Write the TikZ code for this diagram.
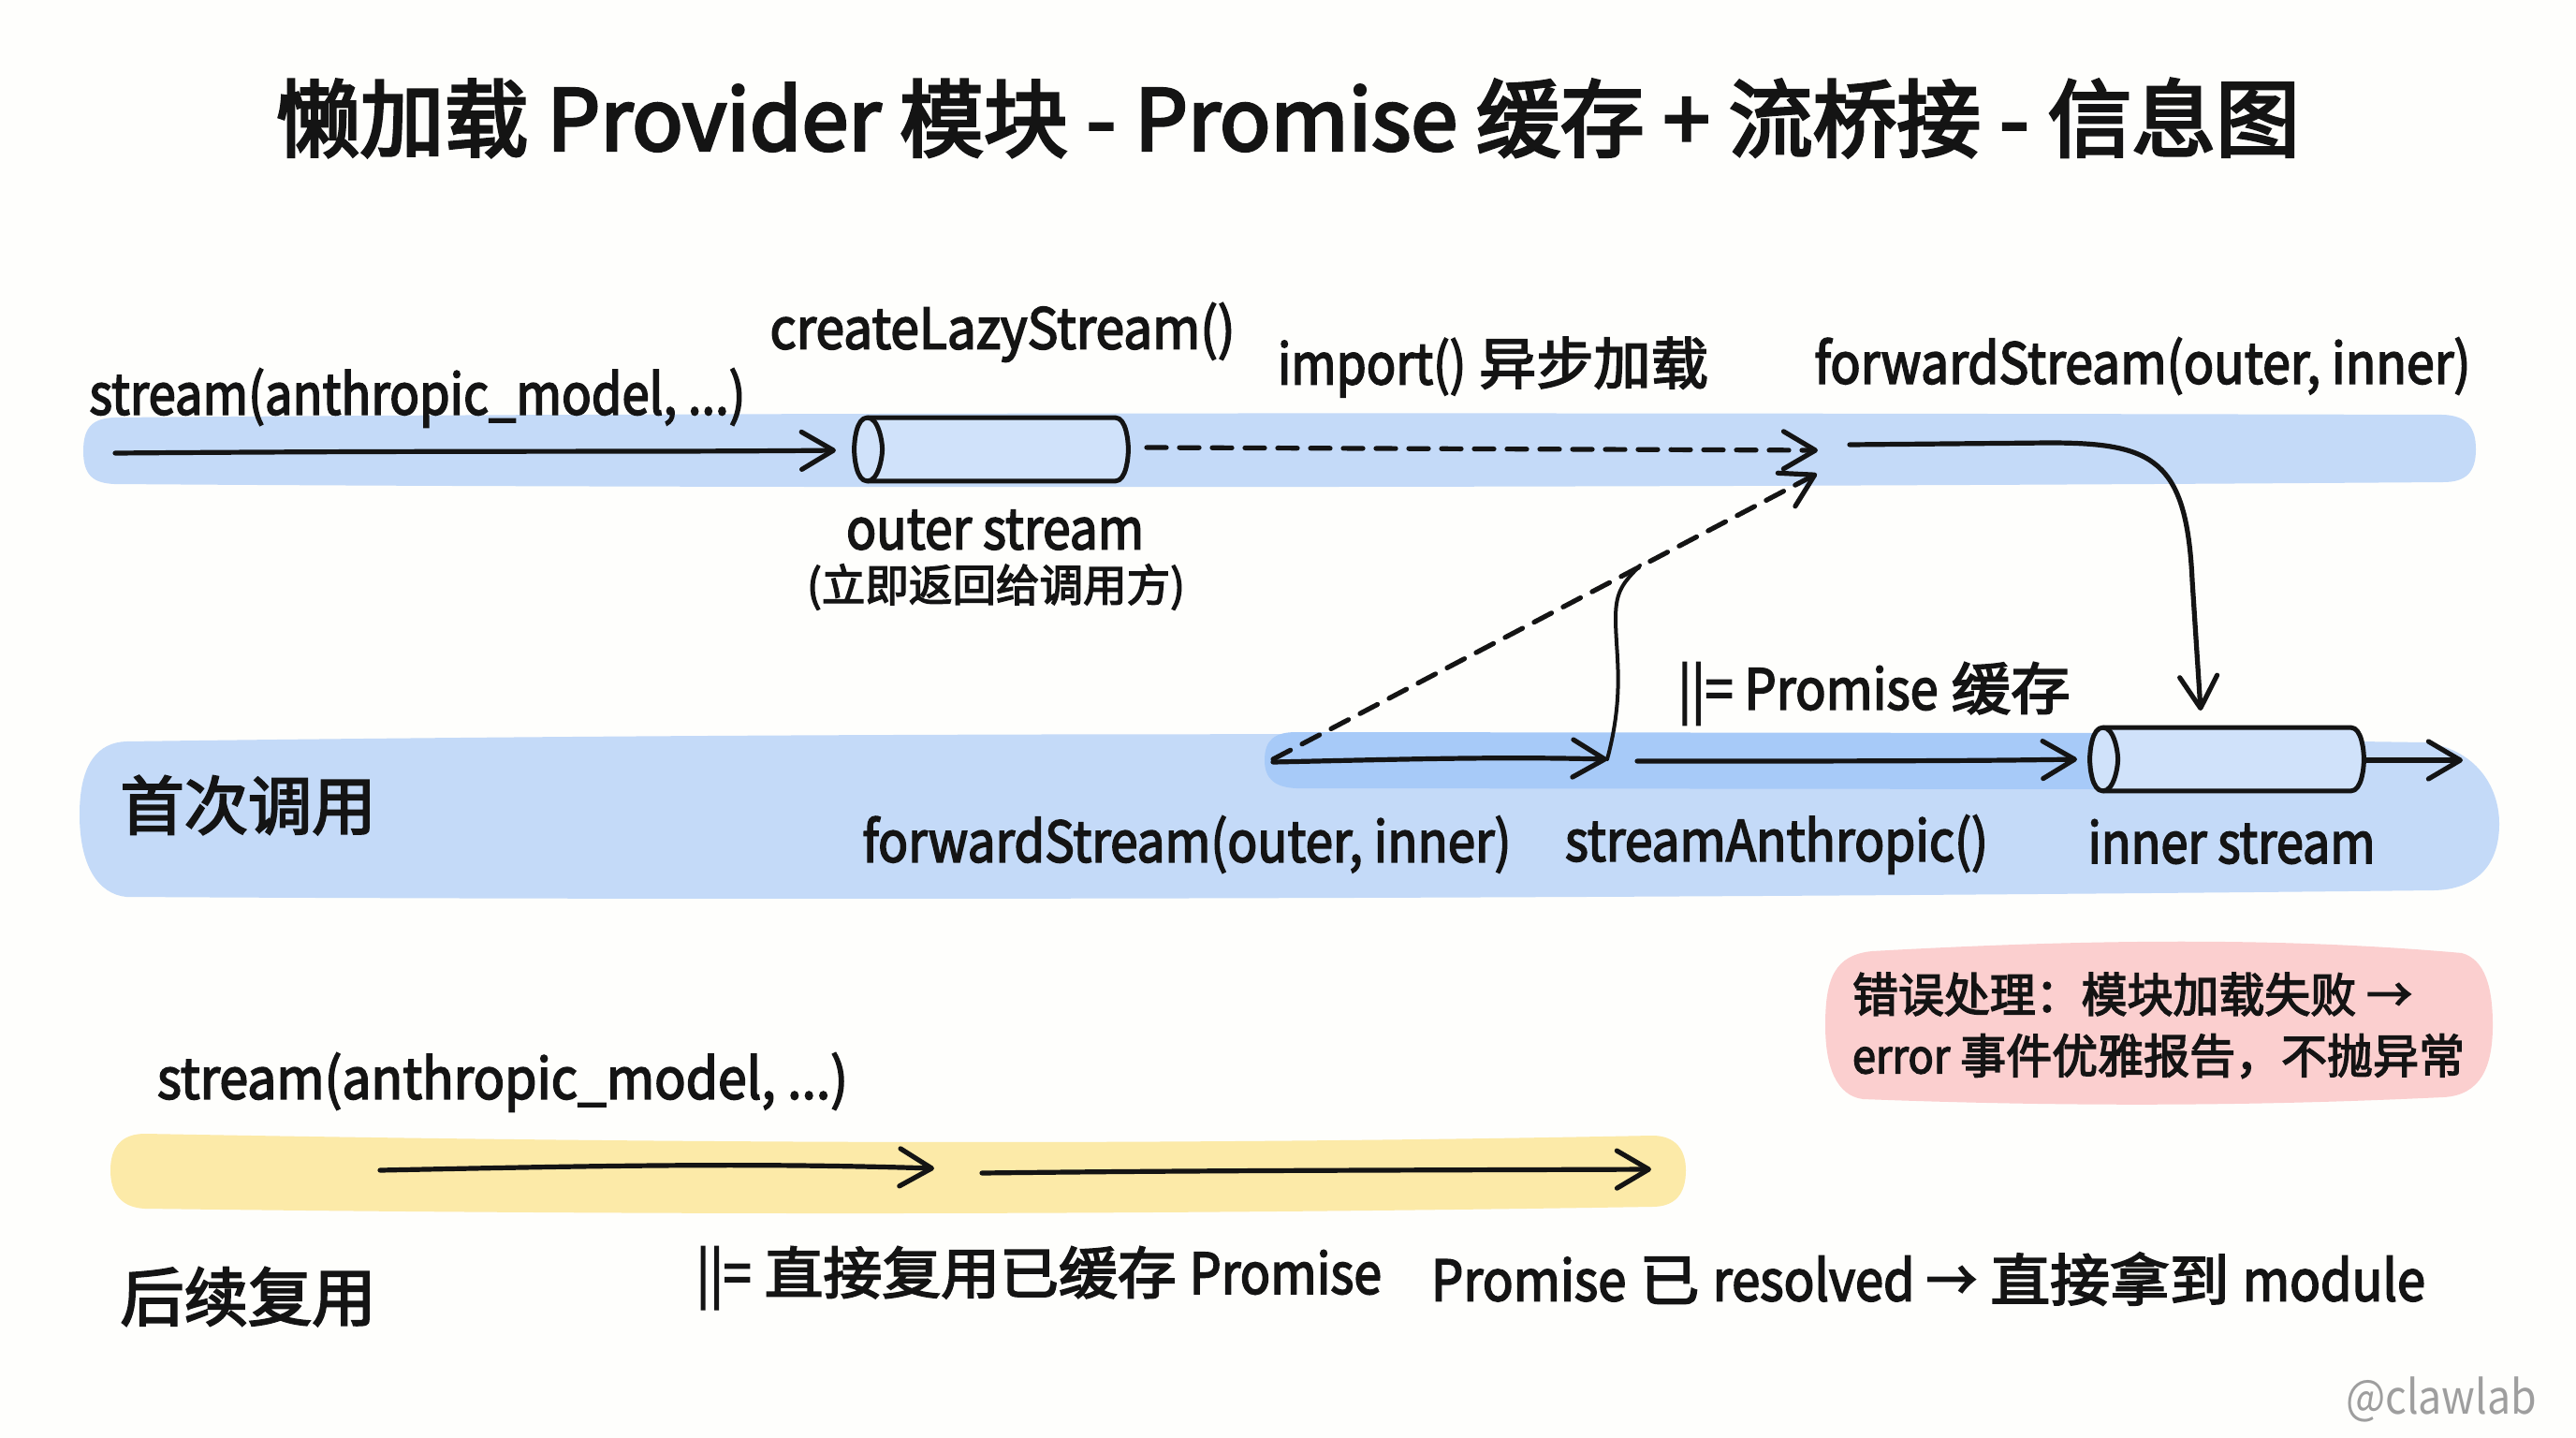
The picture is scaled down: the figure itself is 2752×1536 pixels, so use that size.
\documentclass[tikz,border=0pt]{standalone}
\usepackage{fontspec}
\usepackage{graphicx}
\usetikzlibrary{arrows.meta}
\setmainfont{Noto Sans CJK SC}
\newfontfamily\labelfont[FakeBold=3]{Noto Sans CJK SC}
\newfontfamily\titlefont[FakeBold=3.5]{Noto Sans CJK SC}
\newfontfamily\markfont{Noto Sans CJK SC}
\newdimen\pxu \pxu=0.5pt
\newcommand{\fitw}[2]{\resizebox{#1\pxu}{\height}{#2}}
\newcommand{\lat}[1]{\scalebox{0.85}[1]{#1}}
\definecolor{paper}{HTML}{FEFEFC}
\definecolor{bandblue}{HTML}{C4DAF8}
\definecolor{deepblue}{HTML}{A7CAF8}
\definecolor{tubeblue}{HTML}{D0E2FA}
\definecolor{bandyellow}{HTML}{FCEAA8}
\definecolor{bandpink}{HTML}{FBCFCF}
\definecolor{ink}{HTML}{141414}
\tikzset{
  lbl/.style={inner sep=0pt,text=ink,font=\labelfont\fontsize{30}{36}\selectfont},
  lblsmall/.style={lbl,font=\labelfont\fontsize{25}{30}\selectfont},
  lblparen/.style={lbl,font=\labelfont\fontsize{23.5}{28}\selectfont},
  lblbig/.style={lbl,font=\labelfont\fontsize{34}{40}\selectfont},
  tubebox/.style={rectangle,draw=none,minimum width=146pt,minimum height=33.5pt,inner sep=0pt},
  tubeline/.style={draw=ink,line width=2.5pt,fill=tubeblue,line join=round},
  flow/.style={draw=ink,line width=2.6pt,line cap=round,-{Straight Barb[length=17pt,width=20pt,round]}},
  flowdash/.style={flow,dash pattern=on 10.5pt off 7pt},
  flowplain/.style={draw=ink,line width=2pt,line cap=round}
}
\newcommand{\tubepath}[1]{%
  \draw[tubeline] ([xshift=7pt]#1.north west) -- ([xshift=-7pt]#1.north east)
    .. controls ([xshift=-1pt]#1.north east) and ([yshift=4pt]#1.east) .. (#1.east)
    .. controls ([yshift=-4pt]#1.east) and ([xshift=-1pt]#1.south east) .. ([xshift=-7pt]#1.south east)
    -- ([xshift=7pt]#1.south west)
    .. controls ([xshift=1pt]#1.south west) and ([yshift=-4pt]#1.west) .. (#1.west)
    .. controls ([yshift=4pt]#1.west) and ([xshift=1pt]#1.north west) .. ([xshift=7pt]#1.north west) -- cycle;
  \draw[tubeline,fill=none] ([xshift=7pt]#1.north west)
    .. controls ([xshift=13pt]#1.north west) and ([xshift=15pt,yshift=4pt]#1.west) .. ([xshift=15pt]#1.west)
    .. controls ([xshift=15pt,yshift=-4pt]#1.west) and ([xshift=13pt]#1.south west) .. ([xshift=7pt]#1.south west);
}
\begin{document}
\begin{tikzpicture}[x=0.5pt,y=-0.5pt]
\useasboundingbox (0,0) rectangle (2752,1536);
\fill[paper] (0,0) rectangle (2752,1536);
% bands
\fill[bandblue] (89,482) .. controls (89,455) and (100,447) .. (122,446) .. controls (800,440) and (1800,441) .. (2610,443) .. controls (2635,444) and (2645,456) .. (2645,480) .. controls (2645,504) and (2635,515) .. (2610,515) .. controls (1800,521) and (800,522) .. (122,517) .. controls (100,516) and (89,508) .. (89,482) -- cycle;
\fill[bandblue] (85,870) .. controls (85,815) and (105,793) .. (135,792) .. controls (800,783) and (1700,780) .. (2590,793) .. controls (2645,800) and (2670,840) .. (2670,880) .. controls (2670,925) and (2645,950) .. (2600,951) .. controls (1800,960) and (800,962) .. (135,958) .. controls (105,955) and (85,925) .. (85,870) -- cycle;
\fill[deepblue] (1351,812) .. controls (1351,790) and (1362,782) .. (1385,782) -- (2240,783) -- (2240,843) -- (1385,842) .. controls (1362,841) and (1351,832) .. (1351,812) -- cycle;
\fill[bandyellow] (118,1250) .. controls (118,1225) and (130,1211) .. (155,1211) .. controls (700,1221) and (1200,1224) .. (1765,1213) .. controls (1790,1213) and (1801,1228) .. (1801,1250) .. controls (1801,1275) and (1790,1289) .. (1765,1289) .. controls (1200,1298) and (700,1298) .. (155,1291) .. controls (130,1290) and (118,1275) .. (118,1250) -- cycle;
\fill[bandpink] (1950,1095) .. controls (1950,1045) and (1960,1020) .. (2000,1016) .. controls (2250,1002) and (2450,1002) .. (2630,1018) .. controls (2655,1025) and (2663,1055) .. (2663,1095) .. controls (2663,1140) and (2650,1170) .. (2610,1172) .. controls (2400,1182) and (2200,1182) .. (1990,1174) .. controls (1962,1170) and (1950,1140) .. (1950,1095) -- cycle;
% stream tubes
\node[tubebox] (outer) at (1059,480) {};
\node[tubebox] (inner) at (2379,811) {};
\tubepath{outer}
\tubepath{inner}
% free ends of the connectors
\coordinate (callstart) at (123,484);
\coordinate (calltip) at (893,481);
\coordinate (lazystart) at (1225,478);
\coordinate (hubtop) at (1942,481);
\coordinate (hubstart) at (1976,475);
\coordinate (turn) at (2189,473);
\coordinate (innertop) at (2351,759);
\coordinate (dashstart) at (1360,811);
\coordinate (hublow) at (1941,506);
\coordinate (promisetop) at (1752,604);
\coordinate (midtip) at (1717,811);
\coordinate (midstart) at (1749,813);
\coordinate (innertip) at (2219,811);
\coordinate (innerout) at (2527,812);
\coordinate (exit) at (2631,812);
\coordinate (reuseA) at (406,1250);
\coordinate (reuseAtip) at (998,1248);
\coordinate (reuseB) at (1049,1253);
\coordinate (reuseBtip) at (1764,1249);
% connectors
\draw[flow] (callstart) .. controls (500,481) and (700,483) .. (calltip);
\draw[flowdash] (lazystart) -- (hubtop);
\draw[flow] (hubstart) -- (turn) .. controls (2300,473) and (2336,490) .. (2342,620) -- (innertop);
\draw[flowdash] (dashstart) -- (hublow);
\draw[flowplain] (promisetop) .. controls (1735,622) and (1726,630) .. (1726,660) .. controls (1726,700) and (1736,740) .. (midtip);
\draw[flow] (dashstart) ++(0,3) .. controls (1500,811) and (1600,808) .. (midtip);
\draw[flow] (midstart) .. controls (1950,813) and (2100,813) .. (innertip);
\draw[flow] (innerout) -- (exit);
\draw[flow] (reuseA) .. controls (650,1245) and (800,1242) .. (reuseAtip);
\draw[flow] (reuseB) .. controls (1300,1250) and (1500,1250) .. (reuseBtip);
% labels
\node[inner sep=0pt,text=ink,font=\titlefont\fontsize{45}{50}\selectfont] (title) at (1376,126) {\fitw{2162}{懒加载 Provider 模块 - Promise 缓存 + 流桥接 - 信息图}};
\node[lbl] (lcall) at (446,425) {\fitw{701}{stream(anthropic\_model, ...)}};
\node[lbl] (llazy) at (1071,355) {\fitw{497}{createLazyStream()}};
\node[lbl] (limport) at (1595,392) {\fitw{460}{\lat{import()} 异步加载}};
\node[lbl] (lforward) at (2289,391) {\fitw{701}{forwardStream(outer, inner)}};
\node[lbl] (louter) at (1063,566) {\fitw{318}{outer stream}};
\node[lblparen] (lreturn) at (1064,627) {\fitw{404}{(立即返回给调用方)}};
\node[lblbig] (lfirst) at (265,860) {\fitw{273}{首次调用}};
\node[lbl] (lforward2) at (1268,902) {\fitw{693}{forwardStream(outer, inner)}};
\node[lbl] (lanth) at (1898,902) {\fitw{452}{streamAnthropic()}};
\node[lbl] (linner) at (2384,899) {\fitw{307}{inner stream}};
\node[lbl] (lpromise) at (2002,741) {\fitw{419}{\lat{||= Promise} 缓存}};
\node[lblsmall] (lerrA) at (2278,1062) {\fitw{598}{错误处理：模块加载失败 →}};
\node[lblsmall] (lerrB) at (2306,1128) {\fitw{654}{\scalebox{0.92}[1]{error} 事件优雅报告，不抛异常}};
\node[lbl] (lcall2) at (537,1156) {\fitw{738}{stream(anthropic\_model, ...)}};
\node[lblbig] (llater) at (265,1385) {\fitw{273}{后续复用}};
\node[lbl] (lreuse) at (1110,1365) {\fitw{732}{\lat{||=} 直接复用已缓存 \lat{Promise}}};
\node[lbl] (lresolved) at (2060,1366) {\fitw{1062}{\lat{Promise} 已 \lat{resolved →} 直接拿到 \lat{module}}};
\node[inner sep=0pt,text=black!38,font=\markfont\fontsize{25}{30}\selectfont] (mark) at (2608,1495) {\fitw{204}{@clawlab}};
\end{tikzpicture}
\end{document}
